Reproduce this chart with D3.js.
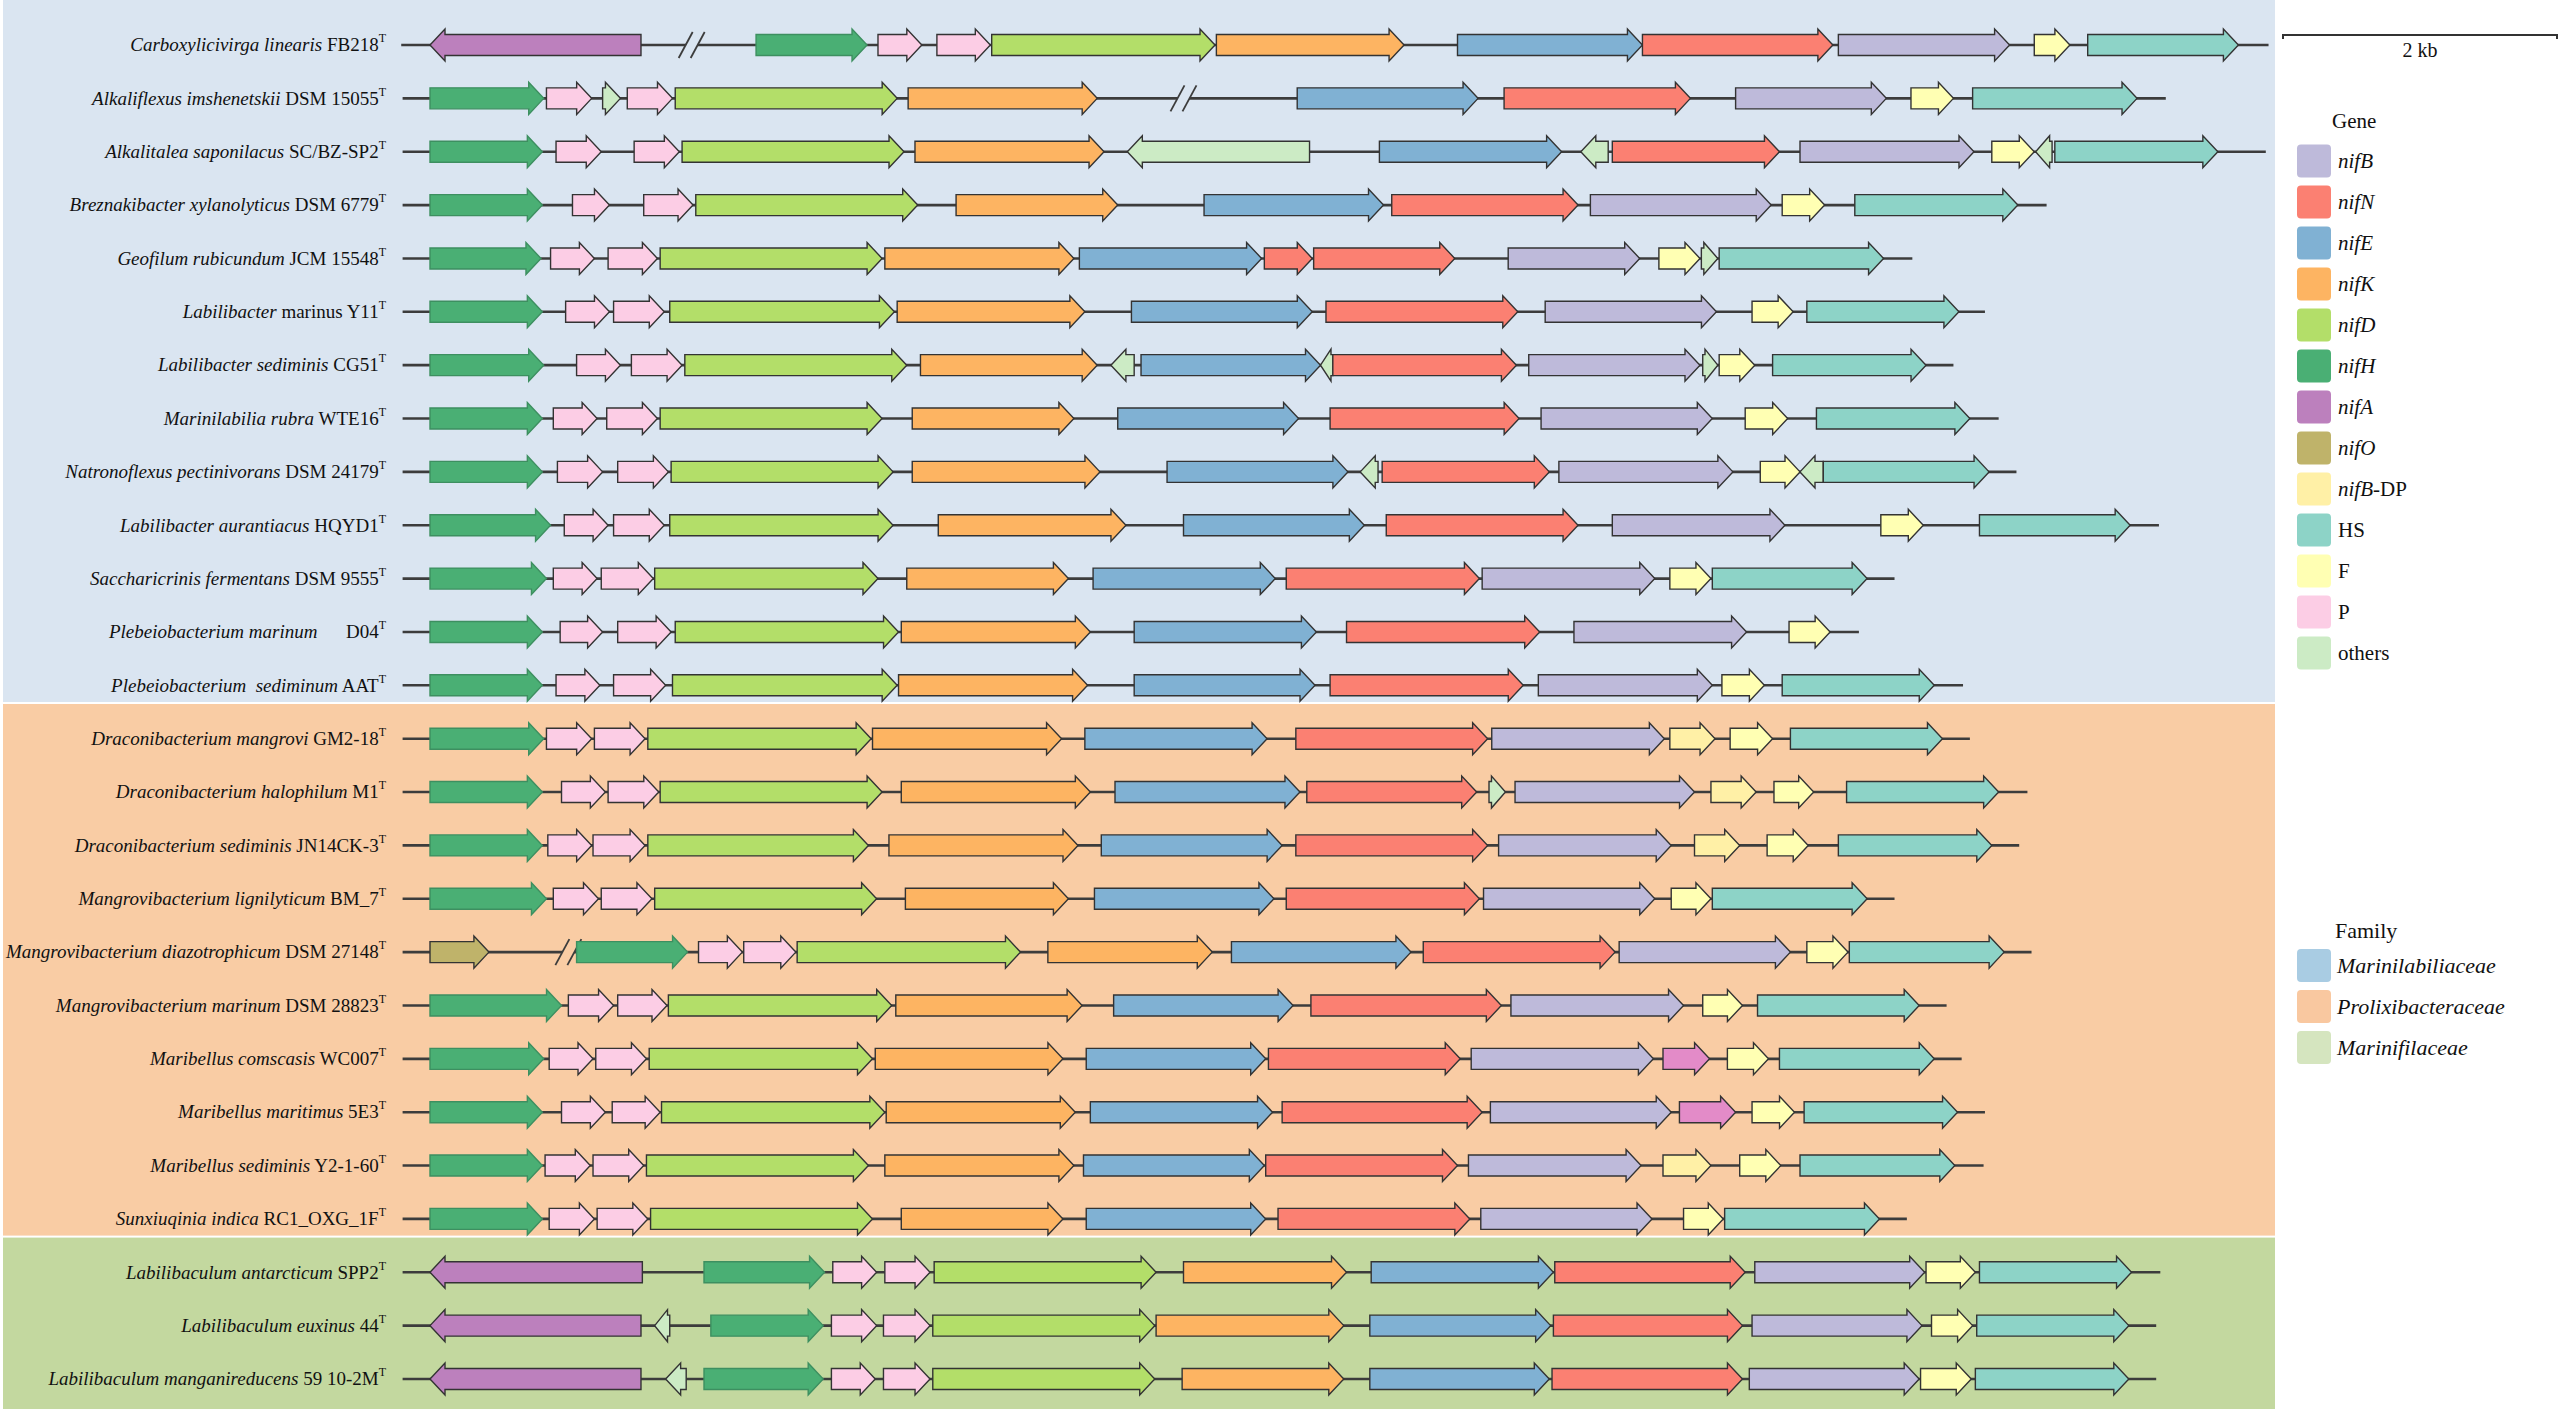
<!DOCTYPE html>
<html><head><meta charset="utf-8">
<script src="https://cdn.jsdelivr.net/npm/d3@7"></script>
<style>
html,body{margin:0;padding:0;background:#fff;}
svg{display:block;font-family:"Liberation Serif","Times New Roman",serif;}
</style></head>
<body>
<svg id="chart" width="2559" height="1409"></svg>
<script>
// ---------- DATA ----------
const geneTypes  = ["nifB","nifN","nifE","nifK","nifD","nifH","nifA","nifO","nifB-DP","HS","F","P","others"];
const geneColors = ["#bebada","#fb8072","#80b1d3","#fdb462","#b3de69","#4aaf74","#bc80bd","#bfb36a","#fff0a6","#8dd3c7","#ffffb3","#fccde5","#ccebc5"];
const extraType = "unknown", extraColor = "#e38bc8";

const families      = ["Marinilabiliaceae","Prolixibacteraceae","Marinifilaceae"];
const familyColors  = ["#a9cce3","#f9c8a0","#d5e5bf"];
const panelColors   = ["#dae5f1","#f9cca4","#c3d89f"];

const speciesNames = ["Carboxylicivirga linearis","Alkaliflexus imshenetskii","Alkalitalea saponilacus","Breznakibacter xylanolyticus","Geofilum rubicundum","Labilibacter","Labilibacter sediminis","Marinilabilia rubra","Natronoflexus pectinivorans","Labilibacter aurantiacus","Saccharicrinis fermentans","Plebeiobacterium marinum","Plebeiobacterium\u00a0 sediminum","Draconibacterium mangrovi","Draconibacterium halophilum","Draconibacterium sediminis","Mangrovibacterium lignilyticum","Mangrovibacterium diazotrophicum","Mangrovibacterium marinum","Maribellus comscasis","Maribellus maritimus","Maribellus sediminis","Sunxiuqinia indica","Labilibaculum antarcticum","Labilibaculum euxinus","Labilibaculum manganireducens"];
const strainNames = [" FB218"," DSM 15055"," SC/BZ-SP2"," DSM 6779"," JCM 15548"," marinus Y11"," CG51"," WTE16"," DSM 24179"," HQYD1"," DSM 9555","\u00a0\u00a0\u00a0\u00a0\u00a0 D04"," AAT"," GM2-18"," M1"," JN14CK-3"," BM_7"," DSM 27148"," DSM 28823"," WC007"," 5E3"," Y2-1-60"," RC1_OXG_1F"," SPP2"," 44"," 59 10-2M"];
const rowFamily = [0,0,0,0,0,0,0,0,0,0,0,0,0,1,1,1,1,1,1,1,1,1,1,2,2,2];

// backbone [start, end] in kb
const backbones = [[-0.21,13.42],[-0.2,12.67],[-0.2,13.40],[-0.2,11.80],[-0.2,10.82],[-0.2,11.35],[-0.2,11.12],[-0.2,11.45],[-0.2,11.58],[-0.2,12.62],[-0.2,10.69],[-0.2,10.43],[-0.2,11.19],[-0.2,11.24],[-0.2,11.66],[-0.2,11.60],[-0.2,10.69],[-0.2,11.69],[-0.2,11.07],[-0.2,11.18],[-0.2,11.35],[-0.2,11.34],[-0.2,10.78],[-0.2,12.63],[-0.2,12.60],[-0.2,12.60]];
// [row, position kb]
const breaks = [[0,1.91],[1,5.50],[17,1.01]];

// genes per row: [type, start kb, end kb, strand]
const genes = [
 [["nifA",0,1.54,-1],["nifH",2.38,3.19,1],["P",3.27,3.59,1],["P",3.70,4.09,1],["nifD",4.10,5.73,1],["nifK",5.74,7.11,1],["nifE",7.50,8.85,1],["nifN",8.85,10.24,1],["nifB",10.28,11.53,1],["F",11.71,11.97,1],["HS",12.10,13.20,1]],
 [["nifH",0,0.83,1],["P",0.85,1.18,1],["others",1.26,1.39,1],["P",1.44,1.77,1],["nifD",1.79,3.41,1],["nifK",3.49,4.87,1],["nifE",6.33,7.65,1],["nifN",7.84,9.20,1],["nifB",9.53,10.63,1],["F",10.81,11.12,1],["HS",11.26,12.46,1]],
 [["nifH",0,0.82,1],["P",0.92,1.25,1],["P",1.49,1.82,1],["nifD",1.84,3.46,1],["nifK",3.54,4.92,1],["others",5.09,6.42,-1],["nifE",6.93,8.26,1],["others",8.40,8.60,-1],["nifN",8.63,9.85,1],["nifB",10.00,11.27,1],["F",11.40,11.71,1],["others",11.72,11.84,-1],["HS",11.86,13.05,1]],
 [["nifH",0,0.82,1],["P",1.04,1.31,1],["P",1.56,1.92,1],["nifD",1.94,3.56,1],["nifK",3.84,5.02,1],["nifE",5.65,6.96,1],["nifN",7.02,8.38,1],["nifB",8.47,9.79,1],["F",9.87,10.18,1],["HS",10.40,11.59,1]],
 [["nifH",0,0.81,1],["P",0.88,1.20,1],["P",1.30,1.66,1],["nifD",1.68,3.30,1],["nifK",3.32,4.70,1],["nifE",4.74,6.07,1],["nifN",6.09,6.44,1],["nifN",6.45,7.48,1],["nifB",7.87,8.83,1],["F",8.97,9.27,1],["others",9.28,9.40,1],["HS",9.41,10.61,1]],
 [["nifH",0,0.82,1],["P",0.99,1.31,1],["P",1.34,1.71,1],["nifD",1.75,3.39,1],["nifK",3.41,4.78,1],["nifE",5.12,6.44,1],["nifN",6.54,7.94,1],["nifB",8.14,9.39,1],["F",9.65,9.95,1],["HS",10.05,11.16,1]],
 [["nifH",0,0.83,1],["P",1.07,1.39,1],["P",1.47,1.84,1],["nifD",1.86,3.48,1],["nifK",3.58,4.87,1],["others",4.97,5.14,-1],["nifE",5.19,6.50,1],["others",6.50,6.59,-1],["nifN",6.59,7.93,1],["nifB",8.02,9.27,1],["others",9.29,9.40,1],["F",9.41,9.67,1],["HS",9.80,10.92,1]],
 [["nifH",0,0.82,1],["P",0.90,1.22,1],["P",1.29,1.66,1],["nifD",1.68,3.30,1],["nifK",3.52,4.70,1],["nifE",5.02,6.34,1],["nifN",6.57,7.95,1],["nifB",8.11,9.36,1],["F",9.60,9.91,1],["HS",10.12,11.24,1]],
 [["nifH",0,0.82,1],["P",0.93,1.26,1],["P",1.37,1.74,1],["nifD",1.76,3.38,1],["nifK",3.52,4.89,1],["nifE",5.38,6.70,1],["others",6.79,6.92,-1],["nifN",6.95,8.17,1],["nifB",8.24,9.51,1],["F",9.71,10.00,1],["others",10.00,10.17,-1],["HS",10.17,11.38,1]],
 [["nifH",0,0.88,1],["P",0.98,1.30,1],["P",1.34,1.71,1],["nifD",1.75,3.38,1],["nifK",3.71,5.08,1],["nifE",5.50,6.82,1],["nifN",6.98,8.38,1],["nifB",8.63,9.89,1],["F",10.59,10.90,1],["HS",11.31,12.41,1]],
 [["nifH",0,0.85,1],["P",0.90,1.22,1],["P",1.25,1.63,1],["nifD",1.64,3.27,1],["nifK",3.48,4.66,1],["nifE",4.84,6.17,1],["nifN",6.25,7.66,1],["nifB",7.68,8.94,1],["F",9.05,9.35,1],["HS",9.36,10.49,1]],
 [["nifH",0,0.82,1],["P",0.95,1.26,1],["P",1.37,1.76,1],["nifD",1.79,3.42,1],["nifK",3.44,4.82,1],["nifE",5.14,6.47,1],["nifN",6.69,8.10,1],["nifB",8.35,9.61,1],["F",9.92,10.22,1]],
 [["nifH",0,0.82,1],["P",0.92,1.24,1],["P",1.34,1.72,1],["nifD",1.77,3.41,1],["nifK",3.42,4.80,1],["nifE",5.14,6.46,1],["nifN",6.57,7.98,1],["nifB",8.09,9.36,1],["F",9.43,9.74,1],["HS",9.87,10.98,1]],
 [["nifH",0,0.83,1],["P",0.85,1.18,1],["P",1.20,1.57,1],["nifD",1.59,3.22,1],["nifK",3.23,4.61,1],["nifE",4.78,6.11,1],["nifN",6.32,7.72,1],["nifB",7.75,9.01,1],["nifB-DP",9.05,9.38,1],["F",9.49,9.80,1],["HS",9.93,11.04,1]],
 [["nifH",0,0.82,1],["P",0.96,1.28,1],["P",1.30,1.67,1],["nifD",1.68,3.30,1],["nifK",3.44,4.82,1],["nifE",5.00,6.35,1],["nifN",6.40,7.64,1],["others",7.73,7.85,1],["nifB",7.92,9.23,1],["nifB-DP",9.35,9.68,1],["F",9.81,10.10,1],["HS",10.34,11.45,1]],
 [["nifH",0,0.82,1],["P",0.86,1.18,1],["P",1.19,1.57,1],["nifD",1.59,3.20,1],["nifK",3.35,4.73,1],["nifE",4.90,6.22,1],["nifN",6.32,7.72,1],["nifB",7.80,9.06,1],["nifB-DP",9.23,9.56,1],["F",9.76,10.06,1],["HS",10.28,11.40,1]],
 [["nifH",0,0.85,1],["P",0.90,1.23,1],["P",1.25,1.62,1],["nifD",1.64,3.26,1],["nifK",3.47,4.66,1],["nifE",4.85,6.16,1],["nifN",6.25,7.66,1],["nifB",7.69,8.94,1],["F",9.06,9.35,1],["HS",9.36,10.49,1]],
 [["nifO",0,0.43,1],["nifH",1.07,1.88,1],["P",1.96,2.28,1],["P",2.29,2.67,1],["nifD",2.68,4.31,1],["nifK",4.51,5.71,1],["nifE",5.85,7.16,1],["nifN",7.25,8.65,1],["nifB",8.68,9.93,1],["F",10.05,10.35,1],["HS",10.36,11.49,1]],
 [["nifH",0,0.96,1],["P",1.01,1.34,1],["P",1.37,1.73,1],["nifD",1.74,3.37,1],["nifK",3.40,4.76,1],["nifE",4.99,6.30,1],["nifN",6.43,7.82,1],["nifB",7.89,9.15,1],["F",9.29,9.58,1],["HS",9.69,10.87,1]],
 [["nifH",0,0.83,1],["P",0.87,1.19,1],["P",1.21,1.58,1],["nifD",1.60,3.23,1],["nifK",3.25,4.62,1],["nifE",4.79,6.10,1],["nifN",6.12,7.52,1],["nifB",7.60,8.93,1],["unknown",9.00,9.34,1],["F",9.47,9.77,1],["HS",9.85,10.98,1]],
 [["nifH",0,0.82,1],["P",0.96,1.28,1],["P",1.33,1.68,1],["nifD",1.69,3.32,1],["nifK",3.33,4.71,1],["nifE",4.82,6.15,1],["nifN",6.22,7.68,1],["nifB",7.74,9.06,1],["unknown",9.12,9.53,1],["F",9.65,9.96,1],["HS",10.03,11.15,1]],
 [["nifH",0,0.82,1],["P",0.84,1.17,1],["P",1.19,1.56,1],["nifD",1.58,3.20,1],["nifK",3.32,4.70,1],["nifE",4.77,6.09,1],["nifN",6.10,7.50,1],["nifB",7.58,8.84,1],["nifB-DP",9.00,9.35,1],["F",9.56,9.86,1],["HS",10.00,11.13,1]],
 [["nifH",0,0.82,1],["P",0.87,1.20,1],["P",1.22,1.59,1],["nifD",1.61,3.23,1],["nifK",3.44,4.62,1],["nifE",4.79,6.10,1],["nifN",6.19,7.59,1],["nifB",7.67,8.92,1],["F",9.15,9.44,1],["HS",9.45,10.58,1]],
 [["nifA",0,1.55,-1],["nifH",2.00,2.88,1],["P",2.94,3.26,1],["P",3.32,3.65,1],["nifD",3.68,5.30,1],["nifK",5.50,6.69,1],["nifE",6.87,8.20,1],["nifN",8.21,9.60,1],["nifB",9.67,10.91,1],["F",10.92,11.28,1],["HS",11.31,12.42,1]],
 [["nifA",0,1.54,-1],["others",1.64,1.75,-1],["nifH",2.05,2.87,1],["P",2.93,3.26,1],["P",3.31,3.65,1],["nifD",3.67,5.29,1],["nifK",5.30,6.67,1],["nifE",6.86,8.18,1],["nifN",8.20,9.58,1],["nifB",9.65,10.89,1],["F",10.96,11.26,1],["HS",11.29,12.40,1]],
 [["nifA",0,1.54,-1],["others",1.72,1.87,-1],["nifH",2.00,2.87,1],["P",2.93,3.25,1],["P",3.31,3.65,1],["nifD",3.67,5.29,1],["nifK",5.49,6.67,1],["nifE",6.86,8.17,1],["nifN",8.19,9.58,1],["nifB",9.63,10.87,1],["F",10.88,11.25,1],["HS",11.28,12.40,1]]
];
const scaleBarKb = 2;
const scaleBarLabel = "2 kb";

// ---------- DRAW ----------
const svg = d3.select("#chart");
const W = 2559, H = 1409;
const x = d3.scaleLinear().domain([0, 1]).range([430, 567]);   // 137 px per kb
const y = d3.scalePoint().domain(d3.range(speciesNames.length)).range([45, 1379]);
const color = d3.scaleOrdinal().domain(geneTypes.concat([extraType])).range(geneColors.concat([extraColor]));

const bodyH = 10.5, headH = 16, headL = 15;
const panelRight = 2275;

// family panels
const groups = d3.groups(d3.range(rowFamily.length), i => rowFamily[i]);
groups.forEach(([fam, idx], gi) => {
  const first = d3.min(idx), last = d3.max(idx);
  const top = first === 0 ? 0 : (y(first - 1) + y(first)) / 2 - 9;
  const bottom = last === rowFamily.length - 1 ? H : (y(last) + y(last + 1)) / 2 - 9;
  svg.append("rect").attr("x", 3).attr("y", top + (gi ? 1 : 0)).attr("width", panelRight - 3)
     .attr("height", bottom - top - (gi ? 1 : 0) - (last === rowFamily.length - 1 ? 0 : 1))
     .attr("fill", panelColors[fam]);
});

const rows = svg.append("g");
speciesNames.forEach((sp, i) => {
  const g = rows.append("g").attr("transform", `translate(0,${y(i)})`);
  // label
  const t = g.append("text").attr("x", 386).attr("y", 0).attr("dy", "0.33em")
    .attr("text-anchor", "end").attr("font-size", 19).attr("fill", "#111");
  t.append("tspan").attr("font-style", "italic").text(sp);
  t.append("tspan").text(strainNames[i]);
  t.append("tspan").attr("font-size", 12).attr("dy", "-0.75em").text("T");
  // backbone
  g.append("line").attr("x1", x(backbones[i][0])).attr("x2", x(backbones[i][1]))
    .attr("y1", 0).attr("y2", 0).attr("stroke", "#3c3c3c").attr("stroke-width", 2.6);
  // breaks
  breaks.filter(b => b[0] === i).forEach(b => {
    const bx = x(b[1]);
    g.append("path").attr("d", `M${bx-13},12 L${bx+1},-12 L${bx+13},-12 L${bx-1},12 Z`).attr("fill", panelColors[rowFamily[i]]);
    [-6, 6].forEach(o => g.append("line").attr("x1", bx + o - 7).attr("y1", 13).attr("x2", bx + o + 7).attr("y2", -13)
      .attr("stroke", "#3c3c3c").attr("stroke-width", 1.8));
  });
  // genes
  g.selectAll("path.gene").data(genes[i]).join("path").attr("class", "gene")
    .attr("d", d => {
      const a = x(d[1]), b = x(d[2]);
      const L = Math.min(headL, (b - a) * 0.85);
      if (d[3] > 0) {
        return `M${a},${-bodyH} L${b-L},${-bodyH} L${b-L},${-headH} L${b},0 L${b-L},${headH} L${b-L},${bodyH} L${a},${bodyH} Z`;
      } else {
        return `M${b},${-bodyH} L${a+L},${-bodyH} L${a+L},${-headH} L${a},0 L${a+L},${headH} L${a+L},${bodyH} L${b},${bodyH} Z`;
      }
    })
    .attr("fill", d => color(d[0]))
    .attr("stroke", d => d[0] === "nifH" ? "#3d8f60" : "#333")
    .attr("stroke-width", 1.4)
    .attr("stroke-linejoin", "miter");
});

// scale bar
const sb = svg.append("g").attr("transform", "translate(2283,35)");
const sbLen = x(scaleBarKb) - x(0);
sb.append("path").attr("d", `M0,4 L0,0 L${sbLen},0 L${sbLen},4`).attr("fill", "none").attr("stroke", "#333").attr("stroke-width", 2);
sb.append("text").attr("x", sbLen / 2).attr("y", 22).attr("text-anchor", "middle").attr("font-size", 20).attr("fill", "#111").text(scaleBarLabel);

// gene legend
const lg = svg.append("g");
lg.append("text").attr("x", 2332).attr("y", 121).attr("dy", "0.35em").attr("font-size", 21).attr("fill", "#111").text("Gene");
const ly = d3.scalePoint().domain(geneTypes).range([161, 653]);
geneTypes.forEach(gt => {
  lg.append("rect").attr("x", 2297).attr("y", ly(gt) - 16.5).attr("width", 34).attr("height", 33).attr("rx", 4)
    .attr("fill", color(gt));
  const t = lg.append("text").attr("x", 2338).attr("y", ly(gt)).attr("dy", "0.35em").attr("font-size", 21).attr("fill", "#111");
  if (gt.startsWith("nif")) {
    const parts = gt.split("-");
    t.append("tspan").attr("font-style", "italic").text(parts[0]);
    if (parts[1]) t.append("tspan").text("-" + parts[1]);
  } else {
    t.text(gt);
  }
});

// family legend
const fg = svg.append("g");
fg.append("text").attr("x", 2335).attr("y", 938).attr("font-size", 22).attr("fill", "#111").text("Family");
const fy = d3.scalePoint().domain(families).range([965.5, 1047.5]);
families.forEach((f, i) => {
  fg.append("rect").attr("x", 2297).attr("y", fy(f) - 16.5).attr("width", 34).attr("height", 33).attr("rx", 4).attr("fill", familyColors[i]);
  fg.append("text").attr("x", 2337).attr("y", fy(f)).attr("dy", "0.35em").attr("font-size", 22)
    .attr("font-style", "italic").attr("fill", "#111").text(f);
});
</script>
</body></html>
